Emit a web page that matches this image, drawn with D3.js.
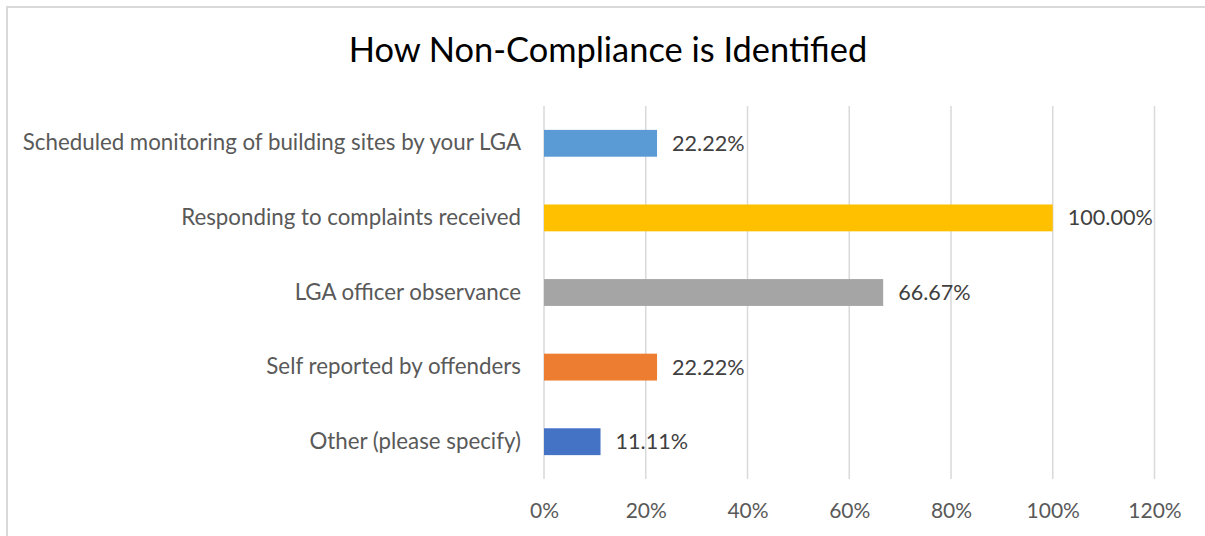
<!DOCTYPE html>
<html>
<head>
<meta charset="utf-8">
<script src="https://cdn.jsdelivr.net/npm/d3@7"></script>
<style>
  body { margin: 0; background: #fff; }
  text { font-family: Lato, "Open Sans", sans-serif; }
</style>
</head>
<body>
<div id="chart"></div>
<script>
var width = 1205, height = 536;

// data, top to bottom as shown
const categories = [
  "Scheduled monitoring of building sites by your LGA",
  "Responding to complaints received",
  "LGA officer observance",
  "Self reported by offenders",
  "Other (please specify)"
];
const values = [0.2222, 1.0, 0.6667, 0.2222, 0.1111];
const barColors = ["#5B9BD5", "#FFC000", "#A5A5A5", "#ED7D31", "#4472C4"];
const xTicks = [0, 0.2, 0.4, 0.6, 0.8, 1.0, 1.2];
const title = "How Non-Compliance is Identified";

const data = categories.map((c, i) => ({cat: c, value: values[i], color: barColors[i]}));

const svg = d3.select("#chart")
    .append("svg")
        .attr("width", width)
        .attr("height", height);

// chart border (only top/left visible in crop)
svg.append("rect")
    .attr("x", 7)
    .attr("y", 7)
    .attr("width", width + 20)
    .attr("height", height + 20)
    .attr("fill", "#fff")
    .attr("stroke", "#d9d9d9")
    .attr("stroke-width", 2);

const plotTop = 106, plotBottom = 479;

const xScale = d3.scaleLinear()
    .domain([0, 1.2])
    .range([544, 1154.5]);

const yScale = d3.scaleBand()
    .domain(categories)
    .range([plotTop, plotBottom])
    .paddingInner(0.64)
    .paddingOuter(0.32);

// gridlines
svg.append("g")
    .selectAll("line")
    .data(xTicks)
    .join("line")
        .attr("x1", d => xScale(d))
        .attr("x2", d => xScale(d))
        .attr("y1", plotTop)
        .attr("y2", plotBottom)
        .attr("stroke", "#d9d9d9")
        .attr("stroke-width", 1.5);

// x axis labels
const xAxis = svg.append("g")
    .attr("transform", "translate(0," + plotBottom + ")")
    .call(d3.axisBottom(xScale).tickValues(xTicks).tickFormat(d3.format(".0%")).tickSize(0).tickPadding(24));
xAxis.select(".domain").remove();
xAxis.selectAll("text")
    .attr("fill", "#595959")
    .style("font-size", "21px")
    .style("font-family", "Lato, sans-serif");

// y axis labels
const yAxis = svg.append("g")
    .attr("transform", "translate(544,0)")
    .call(d3.axisLeft(yScale).tickSize(0).tickPadding(23));
yAxis.select(".domain").remove();
yAxis.selectAll("text")
    .attr("fill", "#595959")
    .style("font-size", "22.3px")
    .style("font-family", "Lato, sans-serif");

// bars
svg.selectAll("rect.bar")
    .data(data)
    .join("rect")
        .attr("class", "bar")
        .attr("x", xScale(0))
        .attr("y", d => yScale(d.cat))
        .attr("width", d => xScale(d.value) - xScale(0))
        .attr("height", yScale.bandwidth())
        .attr("fill", d => d.color);

// data labels
svg.selectAll("text.lbl")
    .data(data)
    .join("text")
        .attr("class", "lbl")
        .attr("x", d => xScale(d.value) + 15)
        .attr("y", d => yScale(d.cat) + yScale.bandwidth() / 2)
        .attr("dy", "0.35em")
        .attr("fill", "#404040")
        .style("font-size", "21.6px")
        .text(d => (d.value * 100).toFixed(2) + "%");

// title
svg.append("text")
    .attr("x", 608)
    .attr("y", 62)
    .attr("text-anchor", "middle")
    .attr("fill", "#000")
    .style("font-size", "34.4px")
    .text(title);
</script>
</body>
</html>
